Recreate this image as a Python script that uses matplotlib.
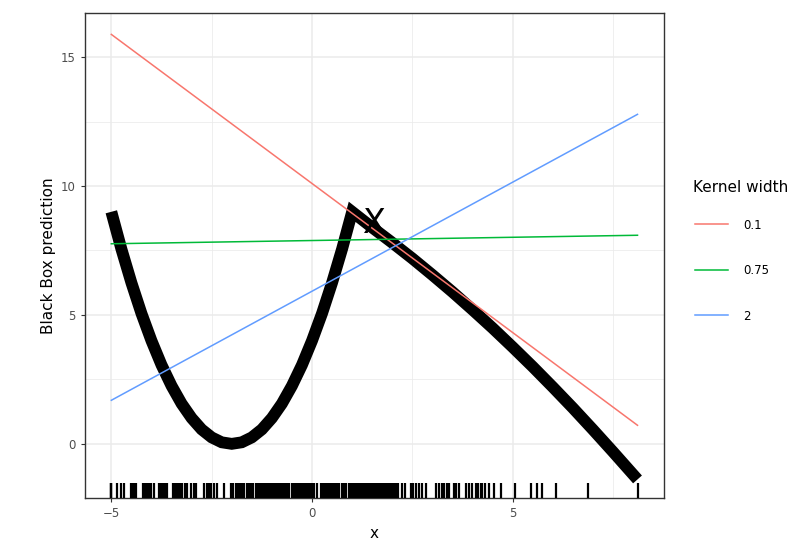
import matplotlib
matplotlib.use("Agg")
import matplotlib.pyplot as plt
from matplotlib.lines import Line2D

# black box curve
curve_x = [-5, -4.75, -4.5, -4.25, -4, -3.75, -3.5, -3.25, -3, -2.75, -2.5, -2.25,
           -2, -1.75, -1.5, -1.25, -1, -0.75, -0.5, -0.25, 0, 0.25, 0.5, 0.75, 1.0,
           1.5, 2, 2.5, 3, 3.5, 4, 4.5, 5, 5.5, 6, 6.5, 7, 7.5, 8.11]
curve_y = [9, 7.56, 6.25, 5.06, 4, 3.06, 2.25, 1.56, 1, 0.56, 0.25, 0.06,
           0, 0.06, 0.25, 0.56, 1, 1.56, 2.25, 3.06, 4, 5.06, 6.25, 7.56, 9.0,
           8.39, 7.8, 7.19, 6.55, 5.89, 5.2, 4.49, 3.75, 2.99, 2.2, 1.39, 0.55, -0.31, -1.38]

# sampled x values (rug)
rug_x = [-5, -5, -5, -4.85, -4.75, -4.68, -4.5, -4.46, -4.43, -4.38, -4.2, -4.15,
         -4.1, -4.05, -4.0, -3.93, -3.81, -3.77, -3.73, -3.68, -3.64, -3.61, -3.46,
         -3.41, -3.36, -3.31, -3.26, -3.23, -3.17, -3.11, -3.01, -2.95, -2.89,
         -2.69, -2.62, -2.56, -2.51, -2.44, -2.36, -2.19, -2.01, -1.96, -1.9,
         -1.85, -1.8, -1.75, -1.7, -1.63, -1.57, -1.52, -1.46, -1.4, -1.35, -1.3,
         -1.25, -1.2, -1.15, -1.1, -1.05, -1.0, -0.95, -0.9, -0.85, -0.82, -0.78,
         -0.75, -0.7, -0.65, -0.61, -0.57, -0.5, -0.45, -0.4, -0.35, -0.3, -0.25,
         -0.2, -0.15, -0.1, -0.05, 0.0, 0.05, 0.12, 0.22, 0.27, 0.32, 0.37, 0.42,
         0.47, 0.52, 0.57, 0.62, 0.67, 0.75, 0.8, 0.85, 0.92, 0.97, 1.02, 1.05,
         1.1, 1.15, 1.2, 1.25, 1.3, 1.35, 1.4, 1.45, 1.5, 1.55, 1.59, 1.64, 1.7,
         1.75, 1.8, 1.85, 1.9, 1.95, 2.0, 2.05, 2.1, 2.15, 2.24, 2.31, 2.46, 2.52,
         2.59, 2.66, 2.75, 2.84, 3.08, 3.16, 3.23, 3.3, 3.36, 3.41, 3.53, 3.6,
         3.66, 3.83, 3.9, 3.98, 4.08, 4.14, 4.2, 4.23, 4.3, 4.4, 4.53, 4.7, 5.07,
         5.45, 5.6, 5.72, 6.07, 6.87, 8.11]

# local linear models per kernel width
kernel_labels = ["0.1", "0.75", "2"]
kernel_colors = ["#F8766D", "#00BA38", "#619CFF"]
line_x = [-5, 8.11]
line_y = [[15.88, 0.72], [7.76, 8.09], [1.69, 12.78]]

point_x, point_y = 1.55, 8.55

fig = plt.figure(figsize=(8.11, 5.53), dpi=100)
ax = fig.add_axes([85 / 811, 55 / 553, 579 / 811, 485 / 553])

ax.plot(curve_x, curve_y, color="black", lw=8.5, solid_capstyle="butt",
        solid_joinstyle="miter", zorder=2)
for lab, col, ys in zip(kernel_labels, kernel_colors, line_y):
    ax.plot(line_x, ys, color=col, lw=1.1, zorder=3)
ax.text(point_x, point_y, "X", fontsize=24, ha="center", va="center", zorder=4)

ax.set_xlim(-5.656, 8.77)
ax.set_ylim(-2.1, 16.71)
ax.vlines(rug_x, 0, 0.03, transform=ax.get_xaxis_transform(), color="black",
          lw=1.6, zorder=5)

ax.set_xticks([-5, 0, 5])
ax.set_yticks([0, 5, 10, 15])
ax.set_xticks([-2.5, 2.5, 7.5], minor=True)
ax.set_yticks([2.5, 7.5, 12.5], minor=True)
ax.grid(which="major", color="#EBEBEB", lw=1.1, zorder=0)
ax.grid(which="minor", color="#EBEBEB", lw=0.55, zorder=0)
ax.set_axisbelow(True)
ax.tick_params(which="major", length=3, color="#333333", labelsize=8.5,
               labelcolor="#4D4D4D")
ax.tick_params(which="minor", length=0)
for s in ax.spines.values():
    s.set_color("#333333")
    s.set_linewidth(1.0)

ax.set_xlabel("x", fontsize=11)
ax.set_ylabel("Black Box prediction", fontsize=11)

fig.text(693 / 811, 1 - 188 / 553, "Kernel width", fontsize=11, ha="left", va="center")
handles = [Line2D([0], [0], color=c, lw=1.1) for c in kernel_colors]
fig.legend(handles, kernel_labels, loc="upper left",
           bbox_to_anchor=(684 / 811, 1 - 208 / 553), frameon=False,
           fontsize=8.5, handlelength=2.8,
           labelspacing=2.75, handletextpad=1.3)

fig.savefig("out.png", dpi=100)
